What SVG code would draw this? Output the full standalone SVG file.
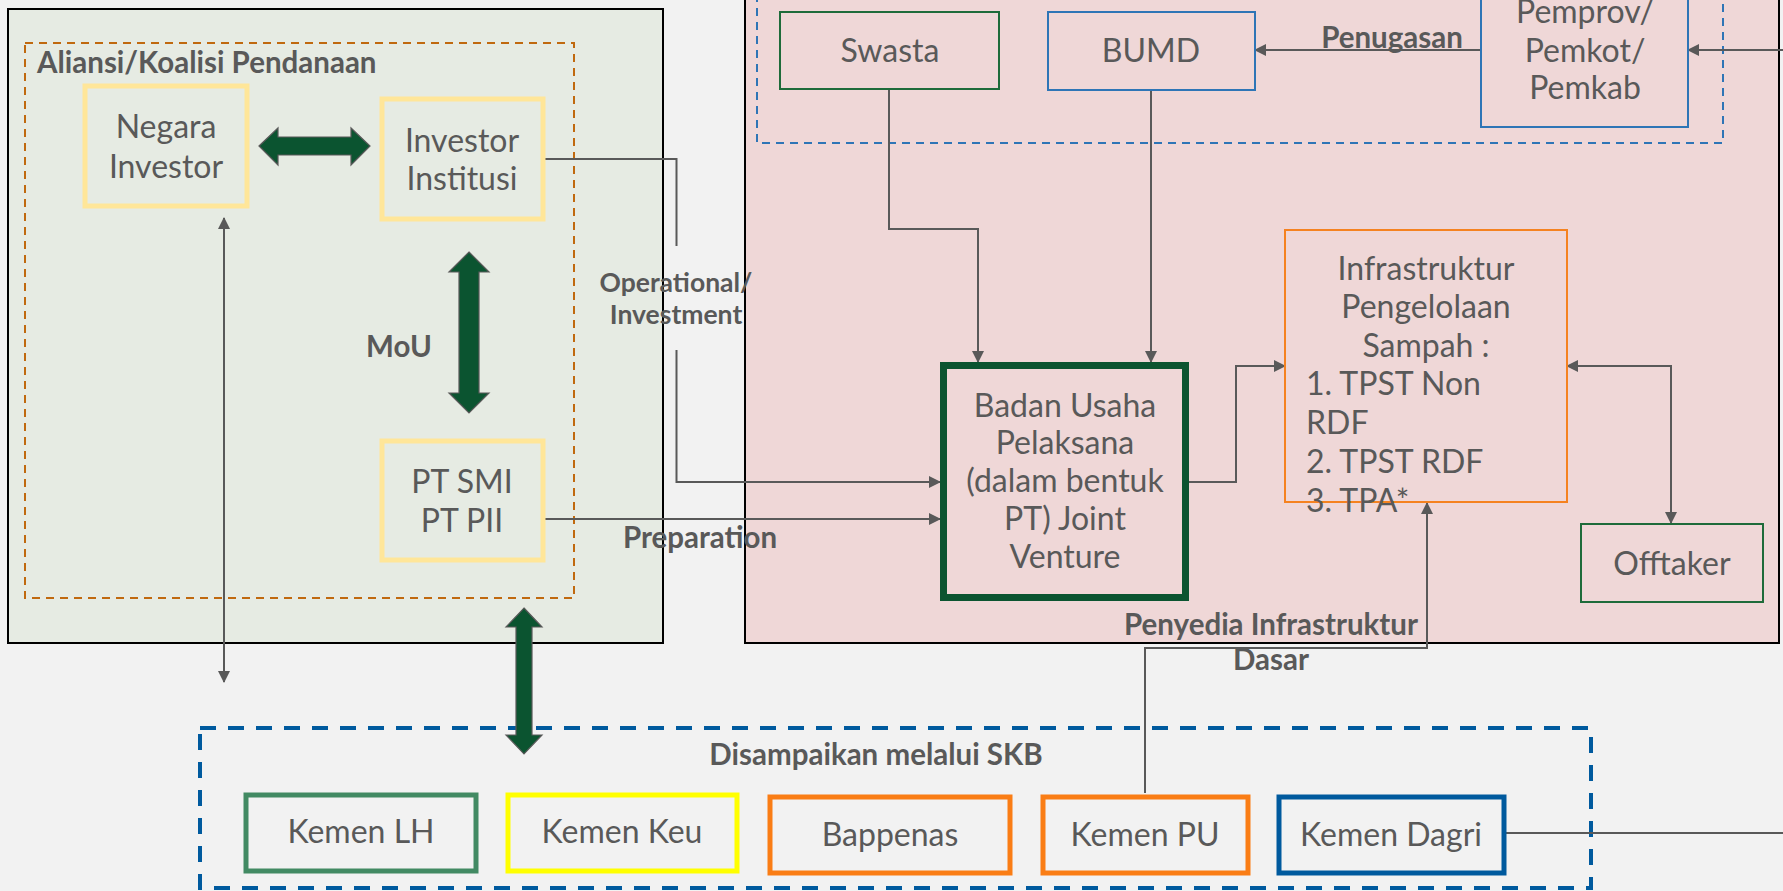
<svg xmlns="http://www.w3.org/2000/svg" width="1783" height="891" viewBox="0 0 1783 891">
<style>
.t{font-family:Lato,"Liberation Sans",sans-serif;font-size:32px;fill:#595959;text-anchor:middle}
.tl{font-family:Lato,"Liberation Sans",sans-serif;font-size:32px;fill:#595959}
.b{font-family:Lato,"Liberation Sans",sans-serif;font-size:29.5px;font-weight:bold;fill:#595959;text-anchor:middle}
.bs{font-family:Lato,"Liberation Sans",sans-serif;font-size:26.5px;font-weight:bold;fill:#595959;text-anchor:middle}
.bl{font-family:Lato,"Liberation Sans",sans-serif;font-size:29.5px;font-weight:bold;fill:#595959}
.c{fill:none;stroke:#595959;stroke-width:2}
.big{fill:#0B5430;stroke:#595959;stroke-width:1.2}
.yb{fill:none;stroke:#FFE699;stroke-width:5}
</style>
<defs>
<marker id="ah" viewBox="0 0 12 12" refX="11" refY="6" markerWidth="12" markerHeight="12" markerUnits="userSpaceOnUse" orient="auto-start-reverse">
<path d="M0,0 L12,6 L0,12 z" fill="#595959"/>
</marker>
</defs>
<rect x="0" y="0" width="1783" height="891" fill="#F2F2F2"/>
<g id="panel-left">
<rect x="8" y="9" width="655" height="634" fill="#E6EBE3" stroke="#000" stroke-width="2"/>
<rect x="25" y="43" width="549" height="555" fill="none" stroke="#C0690F" stroke-width="2" stroke-dasharray="8,6"/>
<text class="bl" x="37" y="73">Aliansi/Koalisi Pendanaan</text>
</g>
<g id="panel-right">
<rect x="745" y="-5" width="1034" height="648" fill="#EFD7D7" stroke="#000" stroke-width="2"/>
<rect x="757" y="-10" width="966" height="153" fill="none" stroke="#2E75B6" stroke-width="2" stroke-dasharray="8,6"/>
</g>
<g id="group-skb">
<rect x="200" y="728" width="1391" height="160" fill="none" stroke="#005A9E" stroke-width="4" stroke-dasharray="16,12"/>
<text class="b" x="876" y="765">Disampaikan melalui SKB</text>
</g>
<g id="connectors">
<path class="c" d="M224,218 V682" marker-start="url(#ah)" marker-end="url(#ah)"/>
<path class="c" d="M543,159 H676.5 V246"/>
<path class="c" d="M676.5,350 V482 H940" marker-end="url(#ah)"/>
<path class="c" d="M543,519 H940" marker-end="url(#ah)"/>
<path class="c" d="M889,89 V229 H978 V362" marker-end="url(#ah)"/>
<path class="c" d="M1151,90 V362" marker-end="url(#ah)"/>
<path class="c" d="M1481,50 H1255" marker-end="url(#ah)"/>
<path class="c" d="M1783,50 H1688" marker-end="url(#ah)"/>
<path class="c" d="M1189,482 H1236 V366 H1285" marker-end="url(#ah)"/>
<path class="c" d="M1567,366 H1671 V523" marker-start="url(#ah)" marker-end="url(#ah)"/>
<path class="c" d="M1145,793 V648 H1427 V503" marker-end="url(#ah)"/>
<path class="c" d="M1505,833 H1783"/>
<polygon class="big" points="259,146 278,128 278,137 351,137 351,128 370,146 351,165 351,155 278,155 278,165"/>
<polygon class="big" points="469,252 489,272 479,272 479,393 489,393 469,413 449,393 459,393 459,272 449,272"/>
<polygon class="big" points="524,608 542,627 532,627 532,735 542,735 524,754 506,735 516,735 516,627 506,627"/>
<text class="bs" x="676" y="292">Operational/</text>
<text class="bs" x="676" y="324">Investment</text>
<text class="b" x="700" y="548">Preparation</text>
<text class="b" x="399" y="357">MoU</text>
<text class="b" x="1392" y="48">Penugasan</text>
<text class="b" x="1271" y="635">Penyedia Infrastruktur</text>
<text class="b" x="1271" y="670">Dasar</text>
</g>
<g id="negara-investor">
<rect class="yb" x="85" y="86" width="162" height="120"/>
<text class="t" x="166" y="138">Negara</text>
<text class="t" x="166" y="178">Investor</text>
</g>
<g id="investor-institusi">
<rect class="yb" x="382" y="99" width="161" height="120"/>
<text class="t" x="462" y="152">Investor</text>
<text class="t" x="462" y="190">Institusi</text>
</g>
<g id="pt-smi">
<rect class="yb" x="382" y="441" width="161" height="119"/>
<text class="t" x="462" y="493">PT SMI</text>
<text class="t" x="462" y="532">PT PII</text>
</g>
<g id="swasta">
<rect x="780" y="12" width="219" height="77" fill="none" stroke="#1E6B3A" stroke-width="2"/>
<text class="t" x="890" y="62">Swasta</text>
</g>
<g id="bumd">
<rect x="1048" y="12" width="207" height="78" fill="none" stroke="#2E75B6" stroke-width="2"/>
<text class="t" x="1151" y="62">BUMD</text>
</g>
<g id="pemprov">
<rect x="1481" y="-10" width="207" height="137" fill="none" stroke="#2E75B6" stroke-width="2"/>
<text class="t" x="1585" y="23">Pemprov/</text>
<text class="t" x="1585" y="62">Pemkot/</text>
<text class="t" x="1585" y="99">Pemkab</text>
</g>
<g id="badan-usaha">
<rect x="943.5" y="365.5" width="242" height="232" fill="none" stroke="#0B5430" stroke-width="7"/>
<text class="t" x="1065" y="417">Badan Usaha</text>
<text class="t" x="1065" y="454">Pelaksana</text>
<text class="t" x="1065" y="492">(dalam bentuk</text>
<text class="t" x="1065" y="530">PT) Joint</text>
<text class="t" x="1065" y="568">Venture</text>
</g>
<g id="infrastruktur">
<rect x="1285" y="230" width="282" height="272" fill="none" stroke="#F58220" stroke-width="2"/>
<text class="t" x="1426" y="280">Infrastruktur</text>
<text class="t" x="1426" y="318">Pengelolaan</text>
<text class="t" x="1426" y="357">Sampah :</text>
<text class="tl" x="1306" y="395">1. TPST Non</text>
<text class="tl" x="1306" y="434">RDF</text>
<text class="tl" x="1306" y="473">2. TPST RDF</text>
<text class="tl" x="1306" y="512">3. TPA*</text>
</g>
<g id="offtaker">
<rect x="1581" y="524" width="182" height="78" fill="none" stroke="#1E6B3A" stroke-width="2"/>
<text class="t" x="1672" y="575">Offtaker</text>
</g>
<g id="kemen-lh">
<rect x="246" y="795" width="230" height="76" fill="none" stroke="#428A63" stroke-width="5"/>
<text class="t" x="361" y="843">Kemen LH</text>
</g>
<g id="kemen-keu">
<rect x="508" y="795" width="229" height="76" fill="none" stroke="#FFFF00" stroke-width="5"/>
<text class="t" x="622" y="843">Kemen Keu</text>
</g>
<g id="bappenas">
<rect x="770" y="797" width="240" height="76" fill="none" stroke="#FA7D15" stroke-width="5"/>
<text class="t" x="890" y="846">Bappenas</text>
</g>
<g id="kemen-pu">
<rect x="1043" y="797" width="205" height="76" fill="none" stroke="#FA7D15" stroke-width="5"/>
<text class="t" x="1145" y="846">Kemen PU</text>
</g>
<g id="kemen-dagri">
<rect x="1279" y="797" width="225" height="76" fill="none" stroke="#005A9E" stroke-width="5"/>
<text class="t" x="1391" y="846">Kemen Dagri</text>
</g>
</svg>
